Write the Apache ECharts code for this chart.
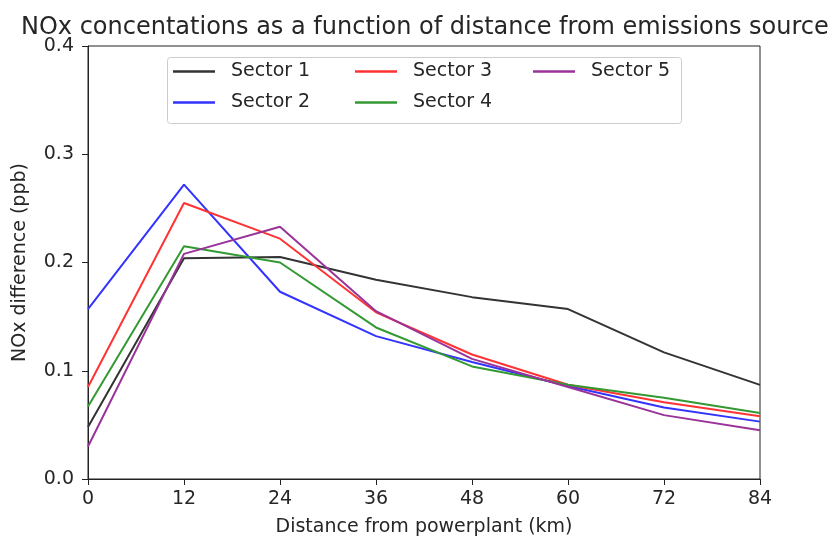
<!DOCTYPE html>
<html>
<head>
<meta charset="utf-8">
<script src="https://cdn.jsdelivr.net/npm/echarts@6/dist/echarts.min.js"></script>
<style>
  html, body { margin: 0; padding: 0; background: #fff; }
  #chart { width: 834px; height: 542px; }
</style>
</head>
<body>
<div id="chart"></div>
<script>
const distances = [0, 12, 24, 36, 48, 60, 72, 84]
const sector1 = [0.048, 0.204, 0.205, 0.184, 0.168, 0.157, 0.117, 0.087]
const sector2 = [0.157, 0.272, 0.173, 0.132, 0.108, 0.086, 0.066, 0.053]
const sector3 = [0.085, 0.255, 0.222, 0.154, 0.115, 0.087, 0.071, 0.058]
const sector4 = [0.067, 0.215, 0.200, 0.140, 0.104, 0.087, 0.075, 0.061]
const sector5 = [0.030, 0.208, 0.233, 0.155, 0.111, 0.085, 0.059, 0.045]

const names = ['Sector 1', 'Sector 2', 'Sector 3', 'Sector 4', 'Sector 5']
const values = [sector1, sector2, sector3, sector4, sector5]
const colors = ['#333333', '#3333ff', '#ff3333', '#339933', '#993399']

const font = 'DejaVu Sans'
const chart = echarts.init(document.getElementById('chart'))

// matplotlib legend is column-major (2 rows x 3 cols), place each entry by hand
const colLeft = [173, 355, 533]
const rowTop = [62, 93]
const legends = names.map((n, i) => ({
  orient: 'horizontal',
  left: colLeft[Math.floor(i / 2)],
  top: rowTop[i % 2],
  padding: 0,
  itemWidth: 42,
  itemHeight: 2.5,
  icon: 'rect',
  data: [n],
  textStyle: { fontFamily: font, fontSize: 19, color: '#262626', padding: [0, 0, 0, 11] }
}))

const option = {
  animation: false,
  title: {
    text: 'NOx concentations as a function of distance from emissions source',
    left: 16,
    top: 11,
    textStyle: { fontFamily: font, fontSize: 24, fontWeight: 'normal', color: '#262626' }
  },
  legend: legends,
  graphic: [{
    type: 'rect',
    shape: { x: 167.5, y: 57.5, width: 514, height: 66, r: 3 },
    style: { fill: 'rgba(255,255,255,0.8)', stroke: '#cccccc', lineWidth: 1 },
    z: 1
  }],
  grid: {
    left: 88, right: 74, top: 46, bottom: 61,
    show: true, borderColor: '#222', borderWidth: 1
  },
  xAxis: {
    type: 'value',
    min: 0, max: 84, interval: 12,
    name: 'Distance from powerplant (km)',
    nameLocation: 'middle',
    nameGap: 39,
    nameTextStyle: { fontFamily: font, fontSize: 19, color: '#262626' },
    axisLine: { lineStyle: { color: '#222' } },
    axisTick: { show: true, length: 6, lineStyle: { color: '#222' } },
    axisLabel: { fontFamily: font, fontSize: 19, color: '#262626', margin: 11 },
    splitLine: { show: false }
  },
  yAxis: {
    type: 'value',
    min: 0, max: 0.4, interval: 0.1,
    name: 'NOx difference (ppb)',
    nameLocation: 'middle',
    nameGap: 58,
    nameTextStyle: { fontFamily: font, fontSize: 19, color: '#262626' },
    axisLine: { show: true, lineStyle: { color: '#222' } },
    axisTick: { show: true, length: 6, lineStyle: { color: '#222' } },
    axisLabel: { fontFamily: font, fontSize: 19, color: '#262626', margin: 14, formatter: v => v.toFixed(1) },
    splitLine: { show: false }
  },
  series: names.map((n, i) => ({
    name: n,
    type: 'line',
    data: distances.map((d, j) => [d, values[i][j]]),
    symbol: 'none',
    color: colors[i],
    lineStyle: { width: 2, color: colors[i] },
    z: 2
  }))
}

chart.setOption(option)
</script>
</body>
</html>
